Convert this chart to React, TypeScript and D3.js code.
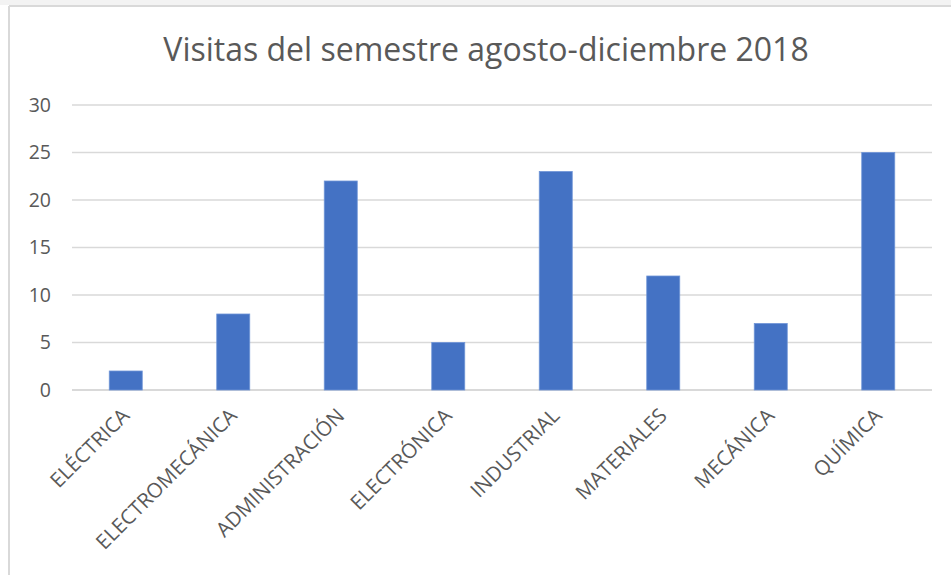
import React from "react";
import * as d3 from "d3";

const categories = ["ELÉCTRICA", "ELECTROMECÁNICA", "ADMINISTRACIÓN", "ELECTRÓNICA", "INDUSTRIAL", "MATERIALES", "MECÁNICA", "QUÍMICA"];
const values = [2, 8, 22, 5, 23, 12, 7, 25];
const yTicks = [0, 5, 10, 15, 20, 25, 30];
const title = "Visitas del semestre agosto-diciembre 2018";

const W = 951;
const H = 575;
const FONT = "'Open Sans', 'Liberation Sans', sans-serif";

export default function App() {
  const x = d3.scaleBand<string>().domain(categories).range([72, 932]).paddingInner(0.693).paddingOuter(0.3465);
  const y = d3.scaleLinear().domain([0, 30]).range([390, 105]);
  return (
    <svg width={W} height={H} style={{ position: "absolute", left: 0, top: 0, background: "#fff" }} fontFamily={FONT}>
      <rect x={0} y={0} width={W} height={5} fill="#f3f3f3" />
      <line x1={9} x2={W} y1={6} y2={6} stroke="#d9d9d9" strokeWidth={2} />
      <line x1={9} x2={9} y1={6} y2={H} stroke="#d9d9d9" strokeWidth={2} />
      <text x={486} y={61} textAnchor="middle" fontSize={32} fill="#595959">{title}</text>
      {yTicks.map((t) => (
        <g key={t}>
          <line x1={72} x2={932} y1={y(t)} y2={y(t)} stroke="#d9d9d9" strokeWidth={t === 0 ? 2 : 1.5} />
          <text x={51} y={y(t)} dy="0.35em" textAnchor="end" fontSize={19.5} fill="#595959">{t}</text>
        </g>
      ))}
      {categories.map((c, i) => (
        <rect key={c} x={x(c)} y={y(values[i])} width={x.bandwidth()} height={y(0) - y(values[i])} fill="#4472c4" stroke="#6f95d8" strokeWidth={0.8} />
      ))}
      {categories.map((c) => {
        const cx = (x(c) as number) + x.bandwidth() / 2;
        return (
          <text key={c} transform={`translate(${cx + 5},${417}) rotate(-45)`} textAnchor="end" fontSize={20.5} fill="#595959">{c}</text>
        );
      })}
    </svg>
  );
}
